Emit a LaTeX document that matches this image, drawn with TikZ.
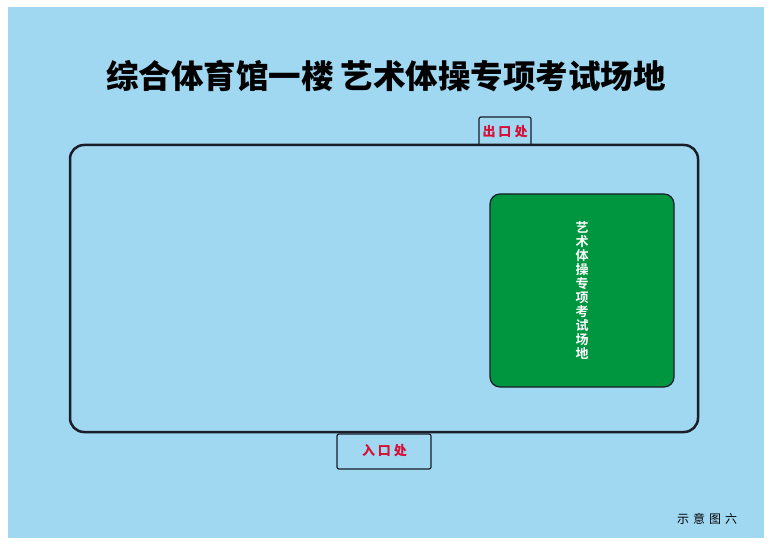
\documentclass[tikz,border=0pt]{standalone}
\usepackage{fontspec}
\newfontfamily\cjk{Noto Sans CJK SC}
\newfontfamily\cjkb{Noto Sans CJK SC Bold}
\newfontfamily\cjkblack{Noto Sans CJK SC Black}
\definecolor{bgblue}{RGB}{160,216,242}
\definecolor{fieldgreen}{RGB}{0,150,64}
\definecolor{linedark}{RGB}{25,30,40}
\definecolor{doorred}{RGB}{215,15,55}
\tikzset{
  hall/.style={draw=linedark, line width=2.5pt, rounded corners=14pt},
  door/.style={draw=linedark, line width=1.2pt, fill=bgblue, rounded corners=2pt},
  doortext/.style={text=doorred, inner sep=0pt, font=\cjkblack\fontsize{13}{13}\selectfont},
  field/.style={draw=linedark, line width=1.2pt, fill=fieldgreen, rounded corners=10pt},
}
\begin{document}
\begin{tikzpicture}[x=1pt,y=-1pt]
\useasboundingbox (0,0) rectangle (775,545);
\fill[white] (0,0) rectangle (775,545);
\fill[bgblue] (8,7) rectangle (764,538);
\node[font=\cjkblack\fontsize{32.5}{32.5}\selectfont, inner sep=0pt] (title) at (386,76) {综合体育馆一楼 艺术体操专项考试场地};
\draw[door] (479,145) -- (479,117) -- (531,117) -- (531,145);
\node[doortext] (exit) at (505,131.5) {出\hspace{3pt}口\hspace{3pt}处};
\draw[hall] (70,145) rectangle (698,432);
\node[door, minimum width=94pt, minimum height=35pt, inner sep=0pt] (entry) at (384,451.5) {};
\node[doortext] (entrytext) at (384.5,451) {入\hspace{3pt}口\hspace{3pt}处};
\node[field, minimum width=184pt, minimum height=193pt, inner sep=0pt] (ground) at (582,290.5) {};
\node[text=white, font=\cjkb\fontsize{13}{14}\selectfont, align=center, inner sep=0pt] (groundtext) at (582,290.5) {艺\\术\\体\\操\\专\\项\\考\\试\\场\\地};
\node[font=\cjk\fontsize{12}{12}\selectfont, inner sep=0pt] (caption) at (707,519) {示\hspace{4pt}意\hspace{4pt}图\hspace{4pt}六};
\end{tikzpicture}
\end{document}
